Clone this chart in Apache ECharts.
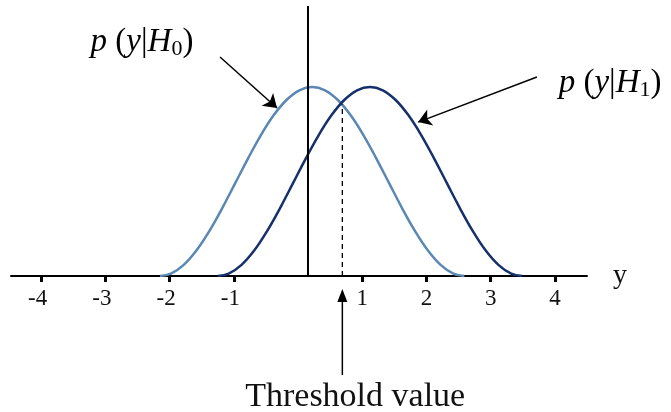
<!DOCTYPE html>
<html>
<head>
<meta charset="utf-8">
<script src="https://cdn.jsdelivr.net/npm/echarts@6/dist/echarts.min.js"></script>
<style>html,body{margin:0;padding:0;background:#fff;}#c{width:671px;height:412px;}</style>
</head>
<body>
<div id="c"></div>
<script>
// ---- data ----
const xMin = -4.47, xMax = 4.5;
const tickValues = [-4, -3, -2, -1, 1, 2, 3, 4];

const h0X = [-2.15, -1.98, -1.78, -1.58, -1.38, -1.18, -0.98, -0.78, -0.58, -0.38, -0.18, 0.02, 0.22,
             0.42, 0.62, 0.82, 1.02, 1.22, 1.42, 1.62, 1.82, 2.02, 2.22, 2.42, 2.59];
const h0Y = [0, 0.0086, 0.0412, 0.095, 0.1671, 0.2516, 0.343, 0.4349, 0.5212, 0.595, 0.6519, 0.6878, 0.70,
             0.6878, 0.6519, 0.595, 0.5212, 0.4349, 0.343, 0.2516, 0.1671, 0.095, 0.0412, 0.0086, 0];

const h1X = [-1.25, -1.08, -0.88, -0.68, -0.48, -0.28, -0.08, 0.12, 0.32, 0.52, 0.72, 0.92, 1.12,
             1.32, 1.52, 1.72, 1.92, 2.12, 2.32, 2.52, 2.72, 2.92, 3.12, 3.32, 3.49];
const h1Y = [0, 0.0086, 0.0412, 0.095, 0.1671, 0.2516, 0.343, 0.4349, 0.5212, 0.595, 0.6519, 0.6878, 0.70,
             0.6878, 0.6519, 0.595, 0.5212, 0.4349, 0.343, 0.2516, 0.1671, 0.095, 0.0412, 0.0086, 0];

const zeroLineX = 0.155, zeroLineY = [0, 1];
const thresholdX = 0.69, thresholdY = [0, 0.635];

const arrowH0 = [[-1.215, 0.811], [-0.327, 0.622]];
const arrowH1 = [[3.72, 0.737], [1.87, 0.570]];
const arrowThr = [[0.69, -0.367], [0.69, -0.048]];

const labelH0Pos = [-2.43, 0.865];
const labelH1Pos = [4.86, 0.715];
const thresholdTextPos = [0.89, -0.448];
const thresholdText = 'Threshold value';

// ---- chart ----
const serif = '"Liberation Serif", "Times New Roman", serif';
const pairs = (xs, ys) => xs.map((x, i) => [x, ys[i]]);

const chart = echarts.init(document.getElementById('c'), null, {renderer: 'canvas'});
const option = {
  animation: false,
  backgroundColor: '#fff',
  grid: {left: 11, right: 84, top: 6, bottom: 136, containLabel: false, outerBoundsMode: 'none'},
  xAxis: {
    type: 'value', min: xMin, max: xMax,
    axisLine: {onZero: false, lineStyle: {color: '#000', width: 2}},
    axisTick: {show: true, customValues: tickValues, length: 6, lineStyle: {color: '#000', width: 3}},
    axisLabel: {
      customValues: tickValues, margin: 11,
      formatter: v => v < 0 ? '{n|' + v + '}' : '{p|' + v + '}',
      rich: {
        n: {fontFamily: serif, fontSize: 23, color: '#111', padding: [0, 7, 0, 0]},
        p: {fontFamily: serif, fontSize: 23, color: '#111'}
      }
    },
    splitLine: {show: false},
    name: 'y', nameLocation: 'end', nameGap: 26,
    nameTextStyle: {fontFamily: serif, fontSize: 28, color: '#111', align: 'left', verticalAlign: 'middle', padding: [0, 0, 8, 0]}
  },
  yAxis: {type: 'value', min: 0, max: 1, show: false},
  series: [
    {
      type: 'line', name: 'H0', data: pairs(h0X, h0Y), smooth: 0.4, symbol: 'none',
      lineStyle: {color: '#5b88b2', width: 2.5}, z: 3,
      markLine: {
        silent: true, symbol: ['none', 'arrow'], symbolSize: 13,
        label: {show: false},
        lineStyle: {color: '#000', width: 1.5, type: 'solid'},
        data: [
          [{coord: arrowH0[0]}, {coord: arrowH0[1]}],
          [{coord: arrowH1[0]}, {coord: arrowH1[1]}]
        ]
      }
    },
    {
      type: 'line', name: 'H1', data: pairs(h1X, h1Y), smooth: 0.4, symbol: 'none',
      lineStyle: {color: '#15306b', width: 2.5}, z: 3
    },
    {
      type: 'line', data: zeroLineY.map(y => [zeroLineX, y]), symbol: 'none',
      lineStyle: {color: '#000', width: 2}, z: 4
    },
    {
      type: 'line', data: thresholdY.map(y => [thresholdX, y]), symbol: 'none',
      lineStyle: {color: '#000', width: 1.3, type: [5, 4]}, z: 4
    }
  ]
};
chart.setOption(option);

const px = p => chart.convertToPixel({xAxisIndex: 0, yAxisIndex: 0}, p);
const labelRich = {
  i: {fontFamily: serif, fontStyle: 'italic', fontSize: 33, lineHeight: 36, fill: '#000'},
  r: {fontFamily: serif, fontSize: 33, lineHeight: 36, fill: '#000'},
  s: {fontFamily: serif, fontSize: 22, lineHeight: 29, verticalAlign: 'bottom', fill: '#000'}
};
const mkLabel = (pos, sub) => {
  const p = px(pos);
  return {
    type: 'text', x: p[0], y: p[1], z: 10,
    style: {
      text: '{i|p}{r| (}{i|y}{r||}{i|H}{s|' + sub + '}{r|)}',
      rich: labelRich, align: 'center', verticalAlign: 'middle'
    }
  };
};
const tp = px(thresholdTextPos);
const a0 = px(arrowThr[0]), a1 = px(arrowThr[1]);
const headLen = 13, headHalf = 5;
chart.setOption({
  graphic: [
    mkLabel(labelH0Pos, '0'),
    mkLabel(labelH1Pos, '1'),
    {
      type: 'line', z: 10,
      shape: {x1: a0[0], y1: a0[1], x2: a1[0], y2: a1[1] + headLen - 1},
      style: {stroke: '#000', lineWidth: 1.5}
    },
    {
      type: 'polygon', z: 10,
      shape: {points: [[a1[0], a1[1]], [a1[0] - headHalf, a1[1] + headLen], [a1[0] + headHalf, a1[1] + headLen]]},
      style: {fill: '#000'}
    },
    {
      type: 'text', x: tp[0], y: tp[1], z: 10,
      style: {text: thresholdText, fontFamily: serif, fontSize: 34, fill: '#111', align: 'center', verticalAlign: 'middle'}
    }
  ]
});
</script>
</body>
</html>
